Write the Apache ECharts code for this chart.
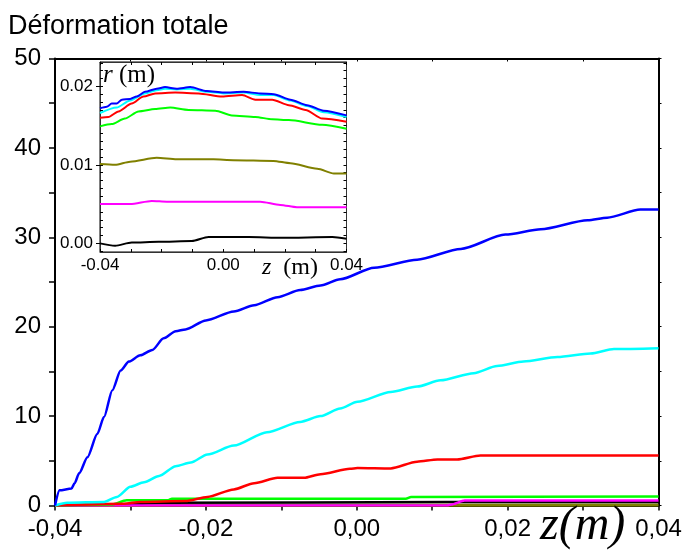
<!DOCTYPE html>
<html><head><meta charset="utf-8">
<script src="https://cdn.jsdelivr.net/npm/echarts@6/dist/echarts.min.js"></script>
<style>html,body{margin:0;padding:0;background:#fff}#c{width:685px;height:552px}</style>
</head><body><div id="c"></div>
<script>
// ---- Main chart data: z (m) vs Déformation totale ----
const mainBlue = [[-0.04,0],[-0.0394,1.7],[-0.0378,1.9],[-0.0374,2.5],[-0.0368,3.6],[-0.0357,5.4],[-0.0344,8.0],[-0.0335,9.9],[-0.0324,12.9],[-0.0313,15.1],[-0.0302,16.1],[-0.0287,16.8],[-0.0271,17.4],[-0.0256,18.7],[-0.0240,19.5],[-0.0227,19.7],[-0.0200,20.7],[-0.0163,21.7],[-0.0136,22.4],[-0.0105,23.3],[-0.0075,24.1],[-0.0048,24.6],[-0.0022,25.3],[0.0023,26.6],[0.0080,27.5],[0.0138,28.7],[0.0197,30.3],[0.0244,30.9],[0.0306,31.9],[0.0332,32.2],[0.0376,33.1],[0.04,33.1]];
const mainCyan = [[-0.04,0],[-0.0384,0.3],[-0.0335,0.4],[-0.0318,0.96],[-0.0300,2.1],[-0.0282,2.6],[-0.0262,3.3],[-0.0240,4.4],[-0.0220,4.8],[-0.0198,5.7],[-0.0163,6.7],[-0.0119,8.2],[-0.0075,9.35],[-0.0048,10.0],[-0.0022,10.85],[0.0001,11.6],[0.0045,12.7],[0.0080,13.3],[0.0111,14.0],[0.0155,14.8],[0.0186,15.6],[0.0221,16.1],[0.0266,16.6],[0.0310,17.0],[0.0341,17.5],[0.04,17.6]];
const mainRed = [[-0.04,0],[-0.0309,0.2],[-0.0287,0.4],[-0.0227,0.5],[-0.0198,0.96],[-0.0163,1.8],[-0.0136,2.5],[-0.0105,3.1],[-0.0070,3.1],[-0.0048,3.5],[-0.0009,4.1],[0.0001,4.2],[0.0045,4.15],[0.0080,4.9],[0.0107,5.15],[0.0133,5.15],[0.0164,5.6],[0.04,5.6]];
const mainGreen = [[-0.04,0],[-0.0325,0.1],[-0.0305,0.6],[-0.0250,0.6],[-0.0245,0.75],[0.0065,0.75],[0.0072,0.96],[0.04,1.0]];
const mainBlack = [[-0.04,0],[-0.031,0.1],[-0.026,0.3],[0.012,0.38],[0.04,0.38]];
const mainMagenta = [[-0.04,0],[0.0120,0],[0.0125,0.1],[0.0143,0.55],[0.04,0.55]];
const mainOlive = [[-0.04,0],[0.04,0.05]];

// ---- Inset data: z (m) vs r (m) ----
const insetBlue = [[-0.04,0.0172],[-0.0378,0.0174],[-0.0362,0.0178],[-0.0346,0.0178],[-0.0329,0.0183],[-0.0302,0.0184],[-0.0281,0.0187],[-0.0254,0.0193],[-0.0216,0.0197],[-0.0189,0.0199],[-0.0151,0.0197],[-0.0107,0.0199],[-0.0053,0.0194],[0.0001,0.0192],[0.0066,0.0193],[0.0120,0.0191],[0.0164,0.0190],[0.0218,0.0183],[0.0272,0.0176],[0.0326,0.0169],[0.04,0.0163]];
const insetCyan = [[-0.04,0.0166],[-0.0346,0.0173],[-0.0302,0.0182],[-0.0254,0.0191],[-0.0216,0.0195],[-0.0189,0.0197],[-0.0151,0.0196],[-0.0107,0.0197],[-0.0053,0.0193],[0.0001,0.0191],[0.0066,0.0192],[0.0120,0.0189],[0.0164,0.0189],[0.0218,0.0182],[0.0272,0.0175],[0.0326,0.0167],[0.04,0.0161]];
const insetRed = [[-0.04,0.0160],[-0.0373,0.0161],[-0.0340,0.0168],[-0.0297,0.0178],[-0.0259,0.0187],[-0.0221,0.0191],[-0.0156,0.0192],[-0.0080,0.0191],[-0.0004,0.0187],[0.0061,0.0189],[0.0104,0.0183],[0.0159,0.0183],[0.0213,0.0176],[0.0267,0.0170],[0.0321,0.0159],[0.04,0.0155]];
const insetGreen = [[-0.04,0.0149],[-0.0362,0.0152],[-0.0319,0.0159],[-0.0275,0.0168],[-0.0221,0.0171],[-0.0172,0.0173],[-0.0113,0.0170],[-0.0026,0.0169],[0.0028,0.0163],[0.0104,0.0161],[0.0159,0.0158],[0.0213,0.0157],[0.0321,0.0151],[0.04,0.0146]];
const insetOlive = [[-0.04,0.0101],[-0.0351,0.0100],[-0.0302,0.0104],[-0.0216,0.0109],[-0.0151,0.0107],[-0.0032,0.0107],[0.0033,0.0106],[0.0163,0.0105],[0.0218,0.0102],[0.0305,0.0095],[0.0359,0.0089],[0.04,0.0089]];
const insetMagenta = [[-0.04,0.0050],[-0.0302,0.0050],[-0.0232,0.0054],[-0.0183,0.0053],[0.0120,0.0053],[0.0185,0.0049],[0.0239,0.0046],[0.04,0.0046]];
const insetBlack = [[-0.04,0.0000],[-0.0351,-0.0003],[-0.0297,0.0001],[-0.0210,0.0002],[-0.0102,0.0003],[-0.0048,0.0008],[-0.0015,0.0008],[0.0083,0.0008],[0.0191,0.0007],[0.0354,0.0008],[0.04,0.0006]];

// ---- Tick labels ----
const mainXTicks = [-0.04,-0.02,0,0.02,0.04];
const mainYTicks = [0,10,20,30,40,50];
const insetXTicks = [-0.04,0,0.04];
const insetYTicks = [0,0.01,0.02];

const colors = {blue:'#0000ff',cyan:'#00ffff',red:'#ff0000',green:'#00ff00',black:'#000000',magenta:'#ff00ff',olive:'#808000'};

// minor tick positions
const insetYMinor = [];
for (let i = -1; i <= 23; i++) insetYMinor.push(+(i*0.001).toFixed(3));
const insetXMinor = [];
for (let i = -4; i <= 4; i++) insetXMinor.push(+(i*0.01).toFixed(2));
const mainXMinor = [];
for (let i = -4; i <= 4; i++) mainXMinor.push(+(i*0.01).toFixed(2));
const mainYMinor = [];
for (let i = 0; i <= 10; i++) mainYMinor.push(i*5);

const chart = echarts.init(document.getElementById('c'), null, {renderer:'canvas'});
const lab = {color:'#000', fontFamily:'"Liberation Sans", Arial, sans-serif'};
const hideAll = {axisLabel:{show:false}, splitLine:{show:false}};
const serif = '"Liberation Serif", "Times New Roman", serif';

function mainSeries(name, data, color, w){
  return {name, type:'line', data, xAxisIndex:0, yAxisIndex:0, showSymbol:false, symbol:'none',
    smooth:0.25, smoothMonotone:'x',
    lineStyle:{color, width:w||2.5}, z:3, silent:true, animation:false};
}
function insetSeries(name, data, color){
  return {name, type:'line', data, xAxisIndex:2, yAxisIndex:2, showSymbol:false, symbol:'none',
    smooth:0.25, smoothMonotone:'x',
    lineStyle:{color, width:2}, z:20, silent:true, animation:false};
}

const option = {
  animation:false,
  backgroundColor:'#fff',
  grid:[
    {left:55, top:58.5, width:603.5, height:447, containLabel:false, show:false},
    {left:100, top:62, width:246.5, height:190, containLabel:false, show:true, backgroundColor:'#fff', borderColor:'#000', borderWidth:1, z:10}
  ],
  xAxis:[
    {type:'value', gridIndex:0, position:'bottom', min:-0.04, max:0.04,
      axisLine:{onZero:false, lineStyle:{color:'#000', width:2}},
      axisTick:{customValues:mainXMinor, length:5, lineStyle:{color:'#000', width:1.5}},
      axisLabel:Object.assign({customValues:mainXTicks, fontSize:24, margin:12,
        formatter:v=>v.toFixed(2).replace('.',','), showMinLabel:true, showMaxLabel:true}, lab),
      splitLine:{show:false}},
    {type:'value', gridIndex:0, position:'top', min:-0.04, max:0.04,
      axisLine:{onZero:false, lineStyle:{color:'#000', width:2}},
      axisTick:{inside:true, customValues:mainXMinor, length:3, lineStyle:{color:'#000'}}, ...hideAll},
    {type:'value', gridIndex:1, position:'bottom', min:-0.04, max:0.04, z:12,
      axisLine:{onZero:false, lineStyle:{color:'#333', width:1}},
      axisTick:{inside:true, customValues:insetXMinor, length:3, lineStyle:{color:'#000'}},
      axisLabel:Object.assign({customValues:insetXTicks, fontSize:17, margin:5,
        formatter:v=>v.toFixed(2), showMinLabel:true, showMaxLabel:true}, lab),
      splitLine:{show:false}},
    {type:'value', gridIndex:1, position:'top', min:-0.04, max:0.04, z:12,
      axisLine:{onZero:false, lineStyle:{color:'#333', width:1}},
      axisTick:{inside:true, customValues:insetXMinor, length:3, lineStyle:{color:'#000'}}, ...hideAll}
  ],
  yAxis:[
    {type:'value', gridIndex:0, position:'left', min:0, max:50,
      axisLine:{onZero:false, lineStyle:{color:'#000', width:2}},
      axisTick:{customValues:mainYMinor, length:6, lineStyle:{color:'#000', width:1.5}},
      axisLabel:Object.assign({customValues:mainYTicks, fontSize:24, margin:14, showMinLabel:true, showMaxLabel:true}, lab),
      splitLine:{show:false}},
    {type:'value', gridIndex:0, position:'right', min:0, max:50,
      axisLine:{onZero:false, lineStyle:{color:'#000', width:2}},
      axisTick:{customValues:mainYMinor, length:3, lineStyle:{color:'#000'}}, ...hideAll},
    {type:'value', gridIndex:1, position:'left', min:-0.0011, max:0.0231, z:12,
      axisLine:{onZero:false, lineStyle:{color:'#333', width:1}},
      axisTick:{customValues:insetYTicks, length:4, lineStyle:{color:'#000'}},
      axisLabel:Object.assign({customValues:insetYTicks, fontSize:17, margin:7,
        formatter:v=>v.toFixed(2)}, lab),
      splitLine:{show:false}},
    {type:'value', gridIndex:1, position:'left', min:-0.0011, max:0.0231, z:12,
      axisLine:{show:false, onZero:false},
      axisTick:{inside:true, customValues:insetYMinor, length:3, lineStyle:{color:'#000'}}, ...hideAll},
    {type:'value', gridIndex:1, position:'right', min:-0.0011, max:0.0231, z:12,
      axisLine:{onZero:false, lineStyle:{color:'#333', width:1}},
      axisTick:{inside:true, customValues:insetYMinor, length:3, lineStyle:{color:'#000'}}, ...hideAll}
  ],
  series:[
    mainSeries('olive', mainOlive, colors.olive, 3),
    mainSeries('black', mainBlack, colors.black),
    mainSeries('magenta', mainMagenta, colors.magenta),
    mainSeries('green', mainGreen, colors.green),
    mainSeries('red', mainRed, colors.red),
    mainSeries('cyan', mainCyan, colors.cyan),
    mainSeries('blue', mainBlue, colors.blue),
    insetSeries('black', insetBlack, colors.black),
    insetSeries('magenta', insetMagenta, colors.magenta),
    insetSeries('olive', insetOlive, colors.olive),
    insetSeries('green', insetGreen, colors.green),
    insetSeries('red', insetRed, colors.red),
    insetSeries('cyan', insetCyan, colors.cyan),
    insetSeries('blue', insetBlue, colors.blue)
  ],
  graphic:[
    {type:'text', left:8, top:13, z:30, style:{text:'Déformation totale', fontSize:27,
      fontFamily:'"Liberation Sans", Arial, sans-serif', fill:'#000'}},
    {type:'text', left:103, top:63, z:30, style:{text:'{i|r} (m)', fontSize:25,
      fontFamily:serif, fill:'#000',
      rich:{i:{fontStyle:'italic', fontSize:25, fontFamily:serif}}}},
    {type:'text', left:262, top:256, z:30, style:{text:'{i|z}  (m)', fontSize:24,
      fontFamily:serif, fill:'#000',
      rich:{i:{fontStyle:'italic', fontSize:24, fontFamily:serif}}}},
    {type:'text', left:540, top:502, z:30, style:{text:'z(m)', fontSize:48, fontStyle:'italic',
      fontFamily:serif, fill:'#000'}}
  ]
};
chart.setOption(option);
</script></body></html>
